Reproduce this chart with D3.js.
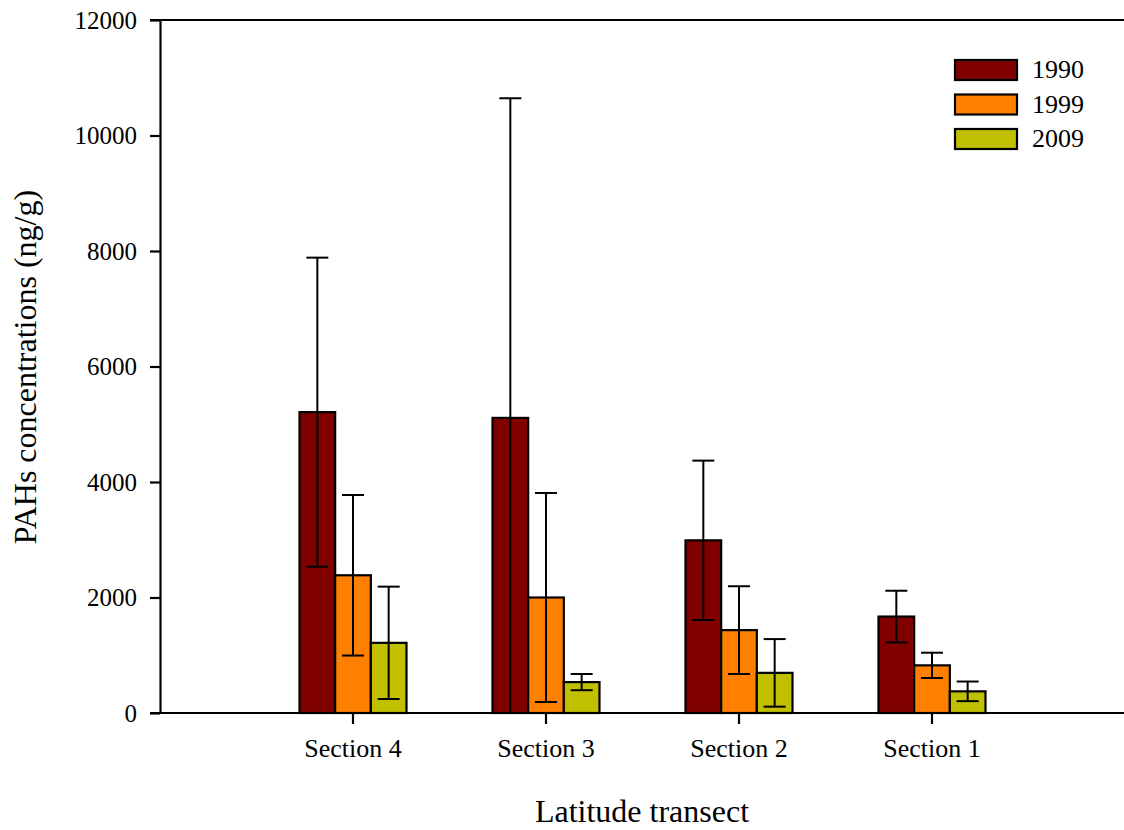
<!DOCTYPE html>
<html>
<head>
<meta charset="utf-8">
<script src="https://cdn.jsdelivr.net/npm/d3@7"></script>
<style>
  body { margin: 0; background: #fff; }
  text { font-family: "Liberation Serif", "Times New Roman", serif; fill: #000; }
</style>
</head>
<body>
<div id="chart"></div>
<script>
// data
var sections = ["Section 4", "Section 3", "Section 2", "Section 1"];
var years = ["1990", "1999", "2009"];
var colors = ["#800000", "#ff8000", "#c0c000"];
var means1990 = [5210, 5110, 2990, 1670];
var means1999 = [2385, 2000, 1435, 825];
var means2009 = [1215, 535, 695, 375];
var err1990 = [2675, 5535, 1380, 447];
var err1999 = [1390, 1810, 760, 219];
var err2009 = [973, 140, 585, 170];
var yTicks = [0, 2000, 4000, 6000, 8000, 10000, 12000];

var means = [means1990, means1999, means2009];
var errs = [err1990, err1999, err2009];
var serif = "'Liberation Serif', 'Times New Roman', serif";

var rows = [];
sections.forEach(function(s, i) {
  years.forEach(function(yr, j) {
    rows.push({section: s, year: yr, color: colors[j], mean: means[j][i], err: errs[j][i]});
  });
});

var W = 1124, H = 830;
var svg = d3.select("#chart").append("svg")
    .attr("width", W)
    .attr("height", H);

var x = d3.scaleBand().domain(sections).range([256.5, 1028.5]);
var xs = d3.scaleBand().domain(years).range([-53.5, 53.5]);
var y = d3.scaleLinear().domain([0, 12000]).range([713, 20]);

// bars
svg.selectAll(".bar")
    .data(rows)
  .enter().append("rect")
    .attr("class", "bar")
    .attr("x", function(d) { return x(d.section) + x.bandwidth() / 2 + xs(d.year); })
    .attr("width", xs.bandwidth())
    .attr("y", function(d) { return y(d.mean); })
    .attr("height", function(d) { return y(0) - y(d.mean); })
    .attr("fill", function(d) { return d.color; })
    .attr("stroke", "#000")
    .attr("stroke-width", 2.2);

// error bars
var cx = function(d) { return x(d.section) + x.bandwidth() / 2 + xs(d.year) + xs.bandwidth() / 2; };
var eb = svg.selectAll(".err")
    .data(rows)
  .enter().append("g")
    .attr("class", "err")
    .attr("stroke", "#000")
    .attr("stroke-width", 2);

eb.append("line")
    .attr("x1", cx).attr("x2", cx)
    .attr("y1", function(d) { return y(d.mean + d.err); })
    .attr("y2", function(d) { return y(Math.max(0, d.mean - d.err)); });

eb.append("line")
    .attr("x1", function(d) { return cx(d) - 11; })
    .attr("x2", function(d) { return cx(d) + 11; })
    .attr("y1", function(d) { return y(d.mean + d.err); })
    .attr("y2", function(d) { return y(d.mean + d.err); });

eb.filter(function(d) { return d.mean - d.err > 0; })
  .append("line")
    .attr("x1", function(d) { return cx(d) - 11; })
    .attr("x2", function(d) { return cx(d) + 11; })
    .attr("y1", function(d) { return y(d.mean - d.err); })
    .attr("y2", function(d) { return y(d.mean - d.err); });

// y axis
var yAxis = svg.append("g")
    .attr("transform", "translate(160,0)")
    .call(d3.axisLeft(y).tickValues(yTicks).tickFormat(d3.format("d"))
      .tickSize(10).tickSizeOuter(0).tickPadding(13));
yAxis.attr("font-family", serif).attr("font-size", 25);
yAxis.select(".domain").attr("stroke-width", 2.2);
yAxis.selectAll(".tick line").attr("stroke-width", 2.2);

// x axis
var xAxis = svg.append("g")
    .attr("transform", "translate(0,713)")
    .call(d3.axisBottom(x).tickSize(11).tickSizeOuter(0).tickPadding(15));
xAxis.attr("font-family", serif).attr("font-size", 26);
xAxis.select(".domain").remove();
xAxis.selectAll(".tick line").attr("stroke-width", 2.2);

// frame lines along bottom and top
svg.append("line")
    .attr("x1", 150).attr("x2", W)
    .attr("y1", y(0)).attr("y2", y(0))
    .attr("stroke", "#000").attr("stroke-width", 2.2);
svg.append("line")
    .attr("x1", 150).attr("x2", W)
    .attr("y1", y(12000)).attr("y2", y(12000))
    .attr("stroke", "#000").attr("stroke-width", 2.2);

// axis titles
svg.append("text")
    .attr("x", 642)
    .attr("y", 822)
    .style("text-anchor", "middle")
    .style("font-size", "32px")
    .text("Latitude transect");

svg.append("text")
    .attr("transform", "translate(36,367) rotate(-90)")
    .style("text-anchor", "middle")
    .style("font-size", "32px")
    .text("PAHs concentrations (ng/g)");

// legend
var legend = svg.selectAll(".legend")
    .data(years)
  .enter().append("g")
    .attr("class", "legend")
    .attr("transform", function(d, i) { return "translate(955," + (60 + i * 34.5) + ")"; });

legend.append("rect")
    .attr("width", 62)
    .attr("height", 20)
    .attr("fill", function(d, i) { return colors[i]; })
    .attr("stroke", "#000")
    .attr("stroke-width", 2.2);

legend.append("text")
    .attr("x", 77)
    .attr("y", 18)
    .style("font-size", "26px")
    .text(function(d) { return d; });
</script>
</body>
</html>
